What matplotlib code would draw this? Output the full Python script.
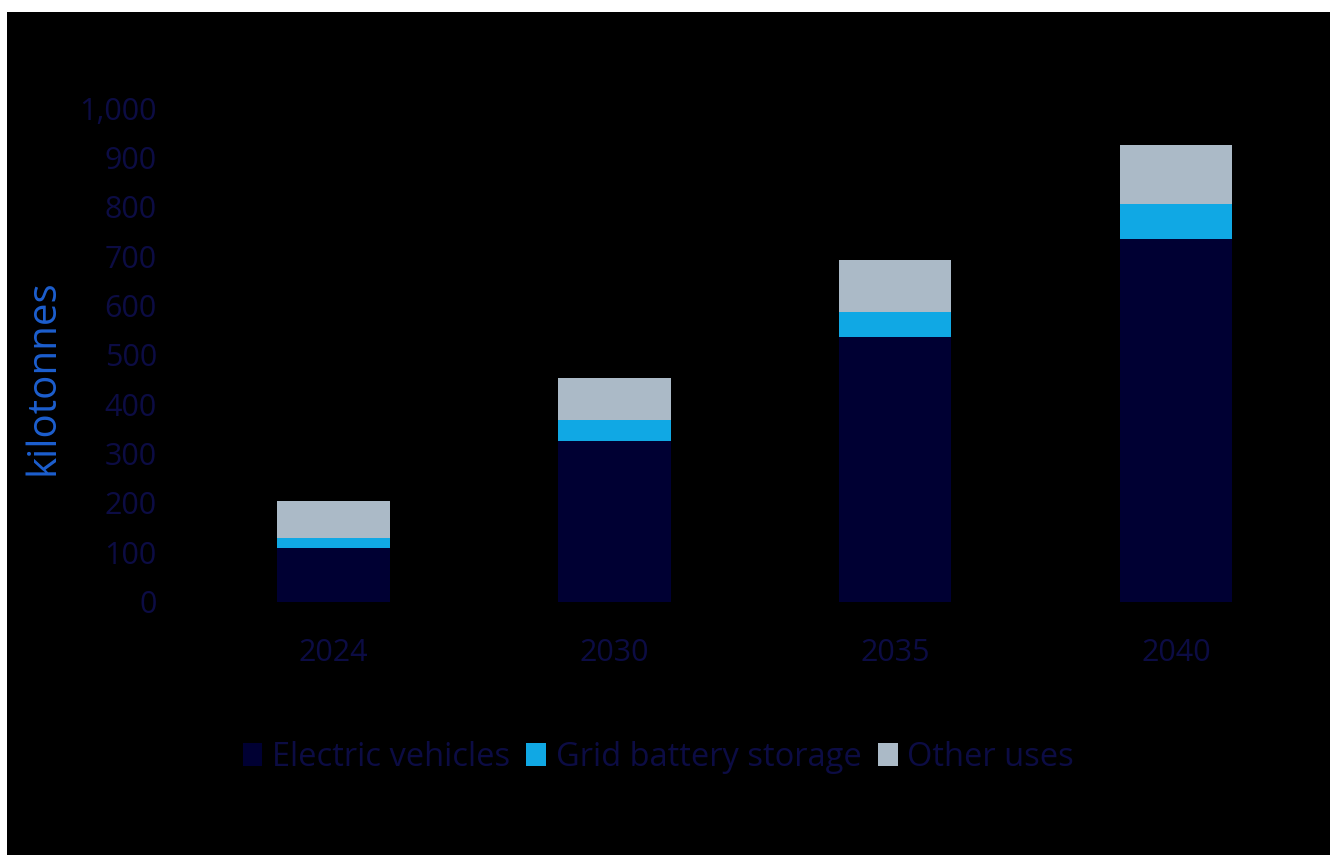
import matplotlib
matplotlib.use("Agg")
import matplotlib.pyplot as plt
from matplotlib.patches import Rectangle

years = ["2024", "2030", "2035", "2040"]
electric_vehicles = [108, 326, 536, 736]
grid_storage = [21, 42, 51, 71]
other_uses = [75, 86, 106, 119]

c_ev = "#000033"
c_grid = "#10a8e4"
c_other = "#abbac7"
c_text = "#0c0c44"
c_label = "#1d5fcf"

plt.rcParams["font.family"] = ["Open Sans", "DejaVu Sans"]

fig = plt.figure(figsize=(13.3, 8.55), dpi=100, facecolor="white")
fig.patches.append(Rectangle((7 / 1330, 0), 1, 1 - 12 / 855, transform=fig.transFigure,
                             facecolor="black", edgecolor="none", zorder=-10))

ax = fig.add_axes([0.1451, 0.2963, 0.8448, 0.5770])
ax.set_facecolor("none")

x = range(len(years))
bottom2 = [a + b for a, b in zip(electric_vehicles, grid_storage)]
ax.bar(x, electric_vehicles, width=0.4, color=c_ev, label="Electric vehicles")
ax.bar(x, grid_storage, width=0.4, bottom=electric_vehicles, color=c_grid,
       label="Grid battery storage")
ax.bar(x, other_uses, width=0.4, bottom=bottom2, color=c_other, label="Other uses")

ax.set_xlim(-0.5, len(years) - 0.5)
ax.set_ylim(0, 1000)
ax.set_yticks(range(0, 1001, 100))
ax.set_yticklabels([f"{v:,}" for v in range(0, 1001, 100)])
ax.set_xticks(list(x))
ax.set_xticklabels(years)
ax.tick_params(axis="both", length=0, colors=c_text, labelsize=22)
ax.tick_params(axis="y", pad=26)
ax.tick_params(axis="x", pad=26)
for s in ax.spines.values():
    s.set_visible(False)

ax.set_ylabel("kilotonnes", color=c_label, fontsize=29)
ax.yaxis.set_label_coords(-0.1150, 0.456)

fig.legend(loc="center", bbox_to_anchor=(0.495, 0.1146), ncol=3, frameon=False,
           fontsize=23.5, labelcolor=c_text, handlelength=0.6, handleheight=0.7,
           handletextpad=0.3, columnspacing=0.5)

fig.savefig("out.png", dpi=100, facecolor=fig.get_facecolor())
